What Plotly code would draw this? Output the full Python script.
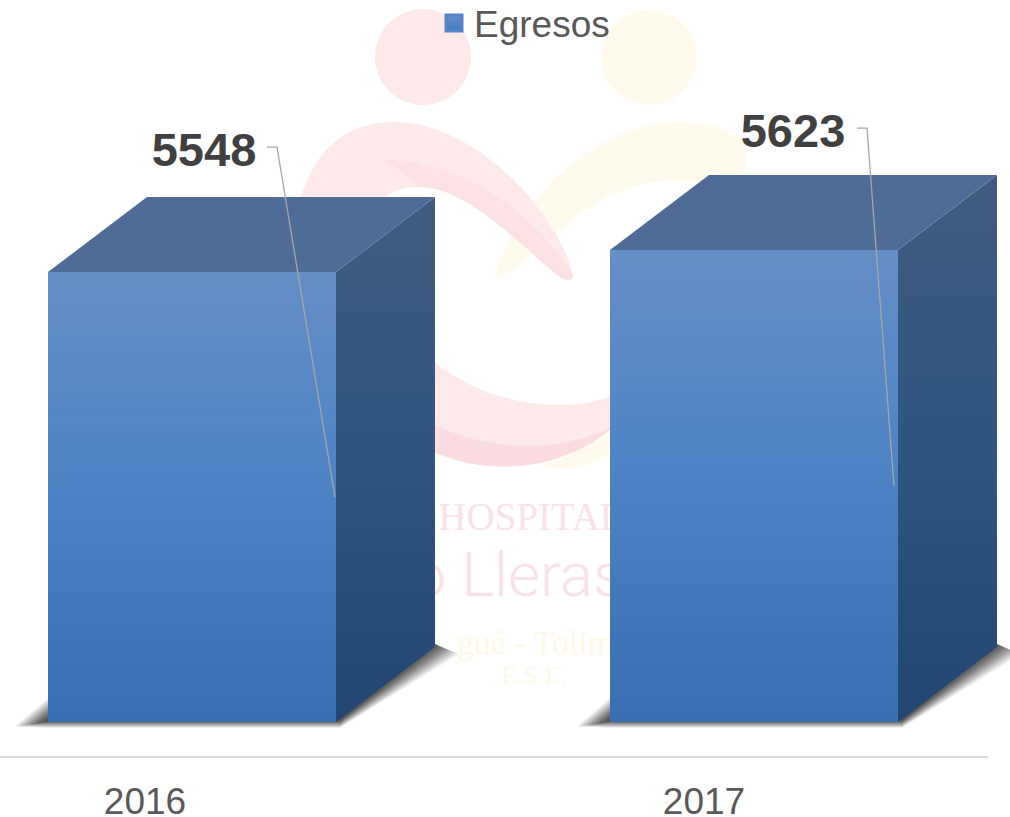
import plotly.graph_objects as go

# ---- data ----
categories = ["2016", "2017"]
egresos = [5548, 5623]
series_name = "Egresos"
axis_floor = 4014  # truncated value axis: value at the bars' foot

# ---- layout constants (pixels) ----
W, H, PLOT_H = 1010, 817, 757
PX_PER_CAT = 562
PX_PER_VAL = 22 / 75
FIRST_X, FOOT_Y = 192, 722
HALF_W, DX, DY = 144, 99, 75


def X(i, dx=0):
    return i + dx / PX_PER_CAT


def Y(v, dy=0):
    return v - dy / PX_PER_VAL


def px_x(p):
    return (p - FIRST_X) / PX_PER_CAT


def px_y(p):
    return axis_floor - (p - FOOT_Y) / PX_PER_VAL


def paper_path(cmds):
    out = []
    for c in cmds:
        out.append(c[0] + " ".join(f"{a/W:.5f},{1-b/PLOT_H:.5f}" for a, b in c[1:]))
    return " ".join(out) + " Z"


fig = go.Figure()

# ---- watermark: text (traces, so that the bars cover it) ----
wm = [
    ("HOSPITAL", 531, 520, "Liberation Serif", 39, "#F9E3E6"),
    ("o Lleras", 518, 580, "Roboto", 62, "#F9E1E5"),
    ("gué - Tolima", 543, 645, "Liberation Serif", 34, "#FEF9E6"),
    ("E.S.E.", 534, 677, "Liberation Serif", 26, "#FEF9E6"),
]
for text, tx, ty, fam, size, col in wm:
    fig.add_trace(go.Scatter(x=[px_x(tx)], y=[px_y(ty)], mode="text", text=[text],
                             textposition="middle center", showlegend=False, hoverinfo="skip",
                             textfont=dict(family=fam, size=size, color=col, weight=300)))

# ---- shadows, soft edge built from stacked translucent layers ----
shadow_steps = [6, 5, 4, 3, 2, 1, 0, -1, -2, -3, -4]
for i, v in enumerate(egresos):
    for g in shadow_steps:
        a = 0.09 + 0.012 * (6 - g)
        xs = [X(i, -HALF_W), X(i, -HALF_W - 15 - 3 * g), X(i, -HALF_W),
              X(i, HALF_W + 4), X(i, HALF_W + DX + 8 + 2.6 * g), X(i, HALF_W + DX),
              X(i, -HALF_W)]
        ys = [Y(axis_floor, -10 - 2.3 * g), Y(axis_floor, 2 + 0.4 * g), Y(axis_floor, 1 + 0.8 * g),
              Y(axis_floor, 1 + 0.8 * g), Y(axis_floor, -DY + 1 + g), Y(axis_floor, -DY - 3),
              Y(axis_floor, -10 - 2.3 * g)]
        fig.add_trace(go.Scatter(x=xs, y=ys, mode="lines", fill="toself",
                                 fillcolor=f"rgba(40,40,40,{a:.3f})", line=dict(width=0),
                                 showlegend=False, hoverinfo="skip"))

# ---- 3D bars ----
for i, v in enumerate(egresos):
    # side face
    fig.add_trace(go.Scatter(
        x=[X(i, HALF_W), X(i, HALF_W + DX), X(i, HALF_W + DX), X(i, HALF_W), X(i, HALF_W)],
        y=[Y(v), Y(v, -DY), Y(axis_floor, -DY), Y(axis_floor), Y(v)],
        mode="lines", fill="toself", line=dict(width=0), showlegend=False, hoverinfo="skip",
        fillgradient=dict(type="vertical",
                          colorscale=[[0, "#234672"], [0.5, "#2F5580"], [1, "#425B80"]])))
    # top face
    fig.add_trace(go.Scatter(
        x=[X(i, -HALF_W), X(i, -HALF_W + DX), X(i, HALF_W + DX), X(i, HALF_W), X(i, -HALF_W)],
        y=[Y(v), Y(v, -DY), Y(v, -DY), Y(v), Y(v)],
        mode="lines", fill="toself", fillcolor="#4F6C96", line=dict(width=0),
        showlegend=False, hoverinfo="skip"))
    # front face
    fig.add_trace(go.Scatter(
        x=[X(i, -HALF_W), X(i, HALF_W), X(i, HALF_W), X(i, -HALF_W), X(i, -HALF_W)],
        y=[Y(v), Y(v), Y(axis_floor), Y(axis_floor), Y(v)],
        mode="lines", fill="toself", line=dict(width=0), showlegend=False,
        hovertemplate="%{customdata}<extra></extra>", customdata=[v] * 5,
        fillgradient=dict(type="vertical",
                          colorscale=[[0, "#3A6FB3"], [0.5, "#4C82C5"], [1, "#668EC7"]])))

# ---- leader lines and value labels ----
label_dx = [12, 39]
label_dy = [-118, -115]
elbow_dx = [85, 113]
end_dx = [143, 140]
for i, v in enumerate(egresos):
    lx, ly = X(i, label_dx[i]), Y(v, label_dy[i])
    fig.add_trace(go.Scatter(
        x=[X(i, elbow_dx[i] - 10), X(i, elbow_dx[i]), X(i, end_dx[i])],
        y=[Y(v, label_dy[i] - 7), Y(v, label_dy[i] - 7), Y((v + axis_floor) / 2)],
        mode="lines", line=dict(color="#A6A6A6", width=1.3), showlegend=False, hoverinfo="skip"))
    fig.add_trace(go.Scatter(x=[lx], y=[ly], mode="text", text=[str(v)],
                             textposition="middle center", showlegend=False, hoverinfo="skip",
                             texttemplate="<b>%{text}</b>",
                             textfont=dict(family="Liberation Sans", size=47, color="#404040")))

# ---- legend entry ----
fig.add_trace(go.Scatter(x=[None], y=[None], mode="markers", name=series_name,
                         marker=dict(symbol="square", size=16, color="#6A92CC",
                                     line=dict(color="#5585C4", width=3),
                                     gradient=dict(type="vertical", color="#3F78BE"))))

# ---- watermark shapes ----
pink, pink2, pink3, yellow = "#FDE8EA", "#FCE2E5", "#FBDDE1", "#FFFBEC"
shapes = [
    dict(type="circle", xref="paper", yref="paper", x0=601 / W, x1=697 / W,
         y0=1 - 105 / PLOT_H, y1=1 - 9 / PLOT_H, fillcolor=yellow, line_width=0, layer="below"),
    dict(type="circle", xref="paper", yref="paper", x0=375 / W, x1=471 / W,
         y0=1 - 105 / PLOT_H, y1=1 - 9 / PLOT_H, fillcolor=pink, line_width=0, layer="below"),
]
paths = [
    (yellow, [("M", (495, 278)), ("C", (510, 210), (590, 122), (680, 122)), ("C", (705, 122), (725, 128), (745, 140)),
              ("L", (745, 190)), ("C", (700, 178), (650, 176), (610, 195)), ("C", (570, 215), (530, 260), (500, 278))]),
    (yellow, [("M", (540, 465)), ("C", (570, 460), (600, 440), (615, 415)), ("L", (615, 450)), ("C", (590, 468), (560, 472), (540, 465))]),
    (pink, [("M", (300, 200)), ("C", (315, 150), (345, 122), (395, 122)), ("C", (470, 122), (555, 205), (573, 275)),
            ("C", (574, 281), (566, 281), (560, 277)), ("C", (530, 255), (470, 187), (420, 187)), ("C", (395, 187), (390, 195), (380, 200))]),
    (pink2, [("M", (385, 160)), ("C", (470, 160), (545, 225), (573, 275)), ("C", (574, 281), (566, 281), (560, 277)),
             ("C", (530, 255), (470, 187), (420, 187)), ("C", (410, 180), (400, 170), (385, 160))]),
    (pink, [("M", (430, 358)), ("C", (470, 395), (550, 420), (615, 395)), ("L", (615, 425)),
            ("C", (570, 468), (490, 480), (430, 450))]),
    (pink3, [("M", (430, 422)), ("C", (470, 445), (550, 460), (615, 425)), ("C", (570, 468), (490, 480), (430, 450))]),
]
for col, cmds in paths:
    shapes.append(dict(type="path", xref="paper", yref="paper", path=paper_path(cmds),
                       fillcolor=col, line_width=0, layer="below"))
# category axis line
shapes.append(dict(type="line", xref="paper", yref="paper", x0=0, x1=988 / W, y0=0, y1=0,
                   line=dict(color="#D9D9D9", width=2), layer="below"))

tick_dx = [-47, -50]
fig.update_layout(
    width=W, height=H, margin=dict(l=0, r=0, t=0, b=H - PLOT_H, autoexpand=False),
    paper_bgcolor="white", plot_bgcolor="rgba(0,0,0,0)", shapes=shapes,
    showlegend=True,
    legend=dict(x=434 / W, y=1.01, xanchor="left", yanchor="top", bgcolor="rgba(0,0,0,0)",
                font=dict(family="Liberation Sans", size=37, color="#595959")),
    xaxis=dict(range=[px_x(0), px_x(W)], showgrid=False, zeroline=False, showline=False,
               automargin=False,
               tickmode="array", tickvals=[X(i, tick_dx[i]) for i in range(len(categories))],
               ticktext=categories, ticks="outside", ticklen=12, tickcolor="rgba(0,0,0,0)",
               tickfont=dict(family="Liberation Sans", size=37, color="#595959")),
    yaxis=dict(range=[px_y(PLOT_H), px_y(0)], visible=False, automargin=False),
)

fig.write_html("out.html", config=dict(displayModeBar=False),
               post_script="document.body.style.margin='0';document.documentElement.style.overflow='hidden';")
